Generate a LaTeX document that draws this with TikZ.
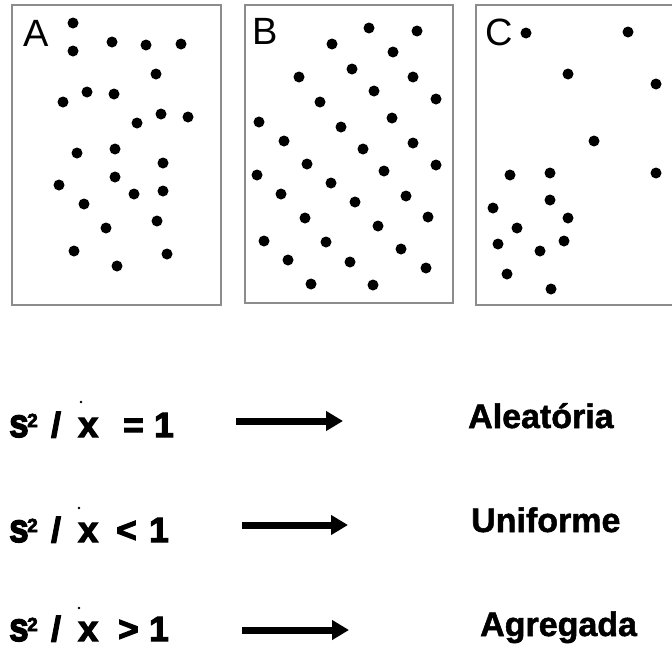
\documentclass[tikz,border=0pt]{standalone}
\usepackage{fontspec}
\setmainfont{Liberation Sans}
\newfontfamily\heavyfont[FakeBold=3.5]{Liberation Sans Bold}
\newfontfamily\lblfont[FakeBold=1.5]{Liberation Sans Bold}
\usetikzlibrary{arrows.meta}
\tikzset{
  panel/.style={draw=black!45, line width=1.5pt},
  dot/.style={fill=black},
  plabel/.style={anchor=base west, inner sep=0pt, font=\fontsize{38}{38}\selectfont},
  ftxt/.style={anchor=base west, inner sep=0pt, font=\heavyfont\fontsize{35}{35}\selectfont},
  xtxt/.style={anchor=base west, inner sep=0pt, font=\heavyfont\fontsize{36}{36}\selectfont},
  supx/.style={anchor=base west, inner sep=0pt, font=\heavyfont\fontsize{19}{19}\selectfont},
  lbl/.style={anchor=base west, inner sep=0pt, font=\lblfont\fontsize{34}{34}\selectfont},
  bigarrow/.style={line width=7pt, -{Triangle[length=17pt,width=19pt]}},
}
\begin{document}
\begin{tikzpicture}[x=1pt,y=-1pt]
\useasboundingbox (0,0) rectangle (672,648);
\begin{scope}
\clip (0,0) rectangle (672,648);
% panels
\draw[panel] (12,5) rectangle (221,305);
\draw[panel] (245,5) rectangle (453,303);
\draw[panel] (476,5) rectangle (690,305);
\end{scope}
\node[plabel] (la) at (23,46) {A};
\node[plabel] (lb) at (252,44) {B};
\node[plabel] (lc) at (485,45) {C};
% dots A
\foreach \x/\y in {73/23,73/51,112/42,146/45,181/44,156/74,87/92,63/102,114/94,161/114,188/117,137/123,77/153,115/149,163/163,115/177,59/185,134/194,163/191,84/204,157/221,106/228,74/251,167/254,117/266}
  \fill[dot] (\x,\y) circle (5.5);
% dots B
\foreach \x/\y in {369/28,417/31,332/44,393/52,352/69,413/77,299/77,374/91,436/99,320/102,392/118,259/122,341/127,413/143,284/141,363/149,307/164,436/165,384/171,257/175,331/183,281/194,406/196,355/202,305/218,428/217,378/226,264/241,326/242,401/249,288/260,350/262,426/268,311/284,373/285}
  \fill[dot] (\x,\y) circle (5.5);
% dots C
\foreach \x/\y in {526/33,628/32,568/74,656/84,594/141,510/175,550/173,656/173,550/200,493/208,568/218,517/228,498/244,564/241,540/251,507/274,551/289}
  \fill[dot] (\x,\y) circle (5.5);
% row 1
\node[ftxt] (s1) at (9,437) {\scalebox{1}[1.15]{s}};
\node[supx] (t1) at (27,427) {2};
\node[ftxt] (sl1) at (51,437) {/};
\node[xtxt] (x1) at (78,437) {x};
\fill (81,402) circle (1.3);
\node[ftxt] (r1) at (123,437) {=};
\node[ftxt] (n1) at (154,437) {1};
\coordinate (a1s) at (236,421);
\coordinate (a1e) at (343,421);
\draw[bigarrow] (a1s) -- (a1e);
\node[lbl] (L1) at (468,428) {Aleatória};
% row 2
\node[ftxt] (s2) at (9,542) {\scalebox{1}[1.15]{s}};
\node[supx] (t2) at (27,532) {2};
\node[ftxt] (sl2) at (51,542) {/};
\node[xtxt] (x2) at (78,542) {x};
\fill (79,508) circle (1.3);
\node[ftxt] (r2) at (116,542) {<};
\node[ftxt] (n2) at (149,542) {1};
\coordinate (a2s) at (242,525);
\coordinate (a2e) at (348,525);
\draw[bigarrow] (a2s) -- (a2e);
\node[lbl] (L2) at (471,532) {Uniforme};
% row 3
\node[ftxt] (s3) at (9,641) {\scalebox{1}[1.15]{s}};
\node[supx] (t3) at (27,631) {2};
\node[ftxt] (sl3) at (51,641) {/};
\node[xtxt] (x3) at (78,641) {x};
\fill (79,608) circle (1.3);
\node[ftxt] (r3) at (118,641) {>};
\node[ftxt] (n3) at (149,641) {1};
\coordinate (a3s) at (242,630);
\coordinate (a3e) at (349,630);
\draw[bigarrow] (a3s) -- (a3e);
\node[lbl] (L3) at (480,636) {Agregada};
\end{tikzpicture}
\end{document}
